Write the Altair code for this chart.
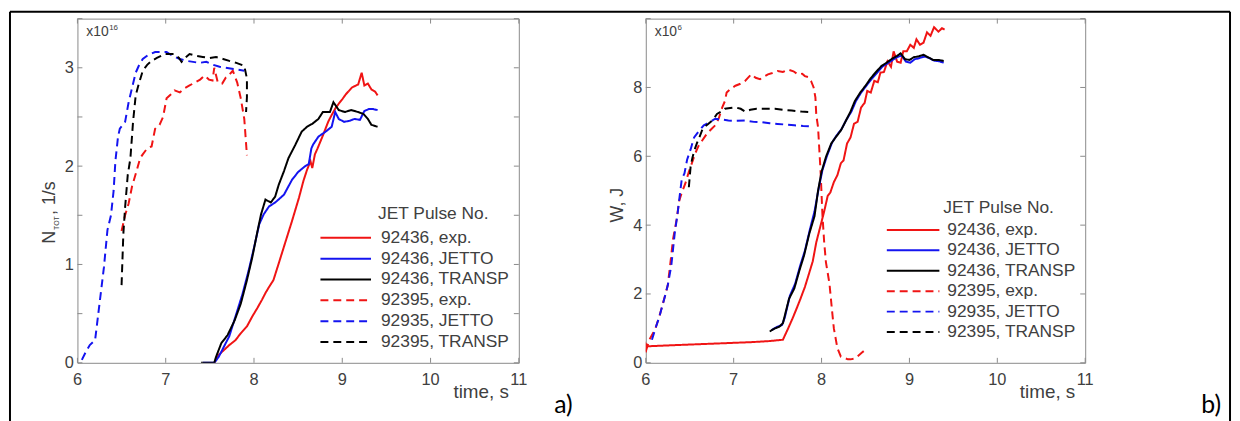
import altair as alt
import pandas as pd

# ---------------- data ----------------
SERIES = ["92436, exp.", "92436, JETTO", "92436, TRANSP",
          "92395, exp.", "92935, JETTO", "92395, TRANSP"]
COLORS = ["#f01414", "#1414f0", "#000000", "#f01414", "#1414f0", "#000000"]
DASHES = [[1, 0], [1, 0], [1, 0], [8, 5], [8, 5], [8, 5]]

X_TICKS = [6, 7, 8, 9, 10, 11]
A_Y_LABELS = [0, 1, 2, 3]
A_Y_TICKS = [0, 0.5, 1, 1.5, 2, 2.5, 3, 3.5]
B_Y_LABELS = [0, 2, 4, 6, 8]
B_Y_TICKS = [0, 2, 4, 6, 8, 10]

# panel a) neutron rate, x1e16 1/s
a_exp_t = [7.55, 7.60, 7.66, 7.72, 7.79, 7.85, 7.92, 7.98, 8.04, 8.09, 8.13, 8.17, 8.22, 8.28,
           8.36, 8.43, 8.51, 8.56, 8.60, 8.64, 8.66, 8.69, 8.72, 8.78, 8.84, 8.88, 8.93, 9.00,
           9.04, 9.11, 9.18, 9.22, 9.25, 9.29, 9.33, 9.37, 9.40]
a_exp_v = [0.0, 0.08, 0.13, 0.18, 0.23, 0.30, 0.37, 0.47, 0.56, 0.64, 0.71, 0.77, 0.84, 1.01,
           1.24, 1.44, 1.68, 1.85, 1.96, 2.05, 1.98, 2.12, 2.18, 2.31, 2.45, 2.52, 2.60, 2.68,
           2.73, 2.80, 2.83, 2.95, 2.82, 2.84, 2.78, 2.76, 2.72]
a_jetto_t = [7.42, 7.50, 7.55, 7.60, 7.64, 7.72, 7.79, 7.87, 7.94, 8.00, 8.06, 8.11, 8.17, 8.24,
             8.34, 8.43, 8.50, 8.58, 8.62, 8.65, 8.67, 8.73, 8.81, 8.88, 8.92, 8.96, 9.02, 9.08,
             9.14, 9.20, 9.25, 9.30, 9.35, 9.40]
a_jetto_v = [0.0, 0.0, 0.0, 0.06, 0.13, 0.27, 0.47, 0.70, 0.94, 1.17, 1.41, 1.51, 1.59, 1.63,
             1.71, 1.86, 1.94, 2.00, 2.02, 2.18, 2.22, 2.30, 2.35, 2.40, 2.55, 2.48, 2.45, 2.46,
             2.48, 2.47, 2.56, 2.58, 2.58, 2.57]
a_transp_t = [7.40, 7.50, 7.55, 7.57, 7.63, 7.70, 7.78, 7.85, 7.92, 7.98, 8.04, 8.08, 8.13, 8.19,
              8.24, 8.28, 8.34, 8.39, 8.47, 8.54, 8.60, 8.66, 8.73, 8.78, 8.81, 8.86, 8.90, 8.96,
              9.03, 9.10, 9.18, 9.24, 9.29, 9.33, 9.40]
a_transp_v = [0.0, 0.0, 0.0, 0.06, 0.20, 0.28, 0.43, 0.60, 0.84, 1.07, 1.34, 1.51, 1.66, 1.63,
              1.69, 1.81, 1.95, 2.08, 2.22, 2.35, 2.40, 2.43, 2.48, 2.55, 2.55, 2.55, 2.65, 2.57,
              2.55, 2.57, 2.55, 2.53, 2.48, 2.42, 2.40]
a_exp2_t = [6.50, 6.54, 6.58, 6.62, 6.67, 6.71, 6.74, 6.79, 6.84, 6.88, 6.93, 6.97, 7.01, 7.06,
            7.10, 7.16, 7.21, 7.27, 7.33, 7.39, 7.44, 7.49, 7.53, 7.55, 7.59, 7.64, 7.68, 7.72,
            7.76, 7.81, 7.85, 7.89, 7.92]
a_exp2_v = [1.34, 1.50, 1.62, 1.80, 1.95, 2.08, 2.12, 2.18, 2.20, 2.38, 2.42, 2.50, 2.69, 2.73,
            2.77, 2.75, 2.79, 2.82, 2.85, 2.88, 2.92, 2.88, 2.87, 3.00, 2.85, 2.84, 2.90, 2.93,
            2.97, 2.85, 2.69, 2.48, 2.11]
a_jetto2_t = [6.05, 6.10, 6.14, 6.20, 6.25, 6.30, 6.34, 6.38, 6.41, 6.43, 6.46, 6.48, 6.54, 6.58,
              6.62, 6.66, 6.70, 6.74, 6.80, 6.88, 6.95, 7.01, 7.08, 7.16, 7.24, 7.31, 7.38, 7.46,
              7.54, 7.61, 7.68, 7.75, 7.82, 7.89]
a_jetto2_v = [0.03, 0.12, 0.18, 0.23, 0.60, 0.97, 1.35, 1.50, 1.75, 2.05, 2.30, 2.38, 2.45, 2.65,
              2.80, 2.95, 3.03, 3.09, 3.13, 3.16, 3.16, 3.16, 3.12, 3.09, 3.07, 3.06, 3.05, 3.06,
              3.03, 3.01, 3.00, 2.99, 2.98, 2.97]
a_transp2_t = [6.50, 6.51, 6.52, 6.54, 6.57, 6.60, 6.63, 6.66, 6.69, 6.74, 6.79, 6.84, 6.90, 6.99,
               7.05, 7.10, 7.15, 7.18, 7.22, 7.27, 7.35, 7.42, 7.50, 7.57, 7.65, 7.72, 7.80, 7.89,
               7.92, 7.92, 7.91]
a_transp2_v = [0.79, 1.05, 1.31, 1.58, 1.91, 2.08, 2.45, 2.72, 2.82, 2.97, 3.03, 3.07, 3.10, 3.14,
               3.14, 3.14, 3.10, 3.06, 3.10, 3.14, 3.12, 3.11, 3.10, 3.11, 3.09, 3.07, 3.05, 3.02,
               2.89, 2.70, 2.55]

# panel b) stored energy, x1e6 J
b_exp_t = [6.00, 6.00, 6.02, 6.30, 6.60, 6.90, 7.20, 7.40, 7.56, 7.62, 7.67, 7.72, 7.76, 7.81,
           7.85, 7.90, 7.94, 7.99, 8.03, 8.07, 8.10, 8.14, 8.18, 8.22, 8.25, 8.29, 8.33, 8.37,
           8.41, 8.45, 8.49, 8.52, 8.56, 8.60, 8.64, 8.67, 8.71, 8.75, 8.79, 8.82, 8.86, 8.90,
           8.93, 8.97, 9.01, 9.05, 9.08, 9.12, 9.16, 9.20, 9.24, 9.28, 9.33, 9.37, 9.40]
b_exp_v = [0.30, 0.55, 0.48, 0.51, 0.54, 0.57, 0.60, 0.63, 0.67, 1.00, 1.29, 1.60, 1.86, 2.20,
           2.53, 2.95, 3.50, 4.00, 4.40, 4.85, 4.95, 5.25, 5.45, 5.80, 5.88, 6.37, 6.55, 6.95,
           7.00, 7.42, 7.55, 7.90, 7.85, 8.19, 8.15, 8.43, 8.45, 8.76, 8.60, 9.05, 8.75, 8.72,
           9.05, 9.05, 9.24, 9.15, 9.40, 9.24, 9.30, 9.60, 9.50, 9.75, 9.62, 9.72, 9.68]
b_jetto_t = [7.43, 7.50, 7.55, 7.58, 7.64, 7.70, 7.76, 7.81, 7.87, 7.92, 7.97, 8.01, 8.06, 8.12,
             8.17, 8.23, 8.28, 8.34, 8.39, 8.45, 8.51, 8.57, 8.63, 8.69, 8.75, 8.81, 8.86, 8.91,
             8.96, 9.01, 9.06, 9.11, 9.17, 9.22, 9.28, 9.34, 9.39]
b_jetto_v = [0.95, 1.05, 1.10, 1.30, 1.95, 2.30, 2.85, 3.25, 3.90, 4.40, 5.10, 5.60, 6.00, 6.40,
             6.60, 6.80, 7.05, 7.30, 7.60, 7.85, 8.05, 8.25, 8.42, 8.60, 8.70, 8.80, 8.88, 8.93,
             8.75, 8.72, 8.82, 8.85, 8.90, 8.86, 8.78, 8.76, 8.72]
b_transp_t = [7.41, 7.47, 7.52, 7.56, 7.63, 7.69, 7.75, 7.80, 7.86, 7.92, 7.96, 8.00, 8.05, 8.11,
              8.16, 8.22, 8.27, 8.33, 8.38, 8.44, 8.50, 8.56, 8.62, 8.68, 8.74, 8.80, 8.86, 8.90,
              8.95, 9.00, 9.05, 9.10, 9.16, 9.21, 9.27, 9.33, 9.39]
b_transp_v = [0.91, 1.00, 1.05, 1.15, 1.86, 2.16, 2.70, 3.11, 3.75, 4.26, 5.00, 5.55, 5.98, 6.37,
              6.55, 6.75, 7.00, 7.30, 7.61, 7.85, 8.05, 8.27, 8.45, 8.62, 8.72, 8.83, 8.92, 8.99,
              8.82, 8.80, 8.88, 8.90, 8.95, 8.88, 8.80, 8.80, 8.77]
b_exp2_t = [6.00, 6.04, 6.08, 6.11, 6.16, 6.20, 6.25, 6.28, 6.31, 6.35, 6.38, 6.41, 6.45, 6.49,
            6.51, 6.56, 6.60, 6.64, 6.68, 6.71, 6.75, 6.79, 6.83, 6.87, 6.90, 6.92, 6.96, 7.02,
            7.07, 7.13, 7.17, 7.20, 7.25, 7.30, 7.35, 7.39, 7.44, 7.50, 7.56, 7.62, 7.68, 7.73,
            7.78, 7.81, 7.85, 7.88, 7.91, 7.93, 7.94, 7.96, 7.99, 8.01, 8.03, 8.05, 8.09, 8.12,
            8.14, 8.18, 8.22, 8.26, 8.30, 8.33, 8.37, 8.41, 8.46, 8.48]
b_exp2_v = [0.33, 0.67, 0.85, 1.00, 1.40, 1.77, 2.25, 2.90, 3.59, 4.15, 4.70, 4.95, 5.21, 5.55,
            5.69, 6.07, 6.30, 6.45, 6.60, 6.70, 6.80, 6.90, 7.10, 7.42, 7.60, 7.85, 7.95, 8.05,
            8.10, 8.19, 8.30, 8.38, 8.28, 8.24, 8.32, 8.38, 8.42, 8.48, 8.45, 8.52, 8.47, 8.38,
            8.40, 8.33, 8.30, 8.19, 8.00, 7.71, 7.20, 6.85, 5.50, 4.30, 3.50, 2.92, 2.30, 1.50,
            1.00, 0.43, 0.18, 0.14, 0.10, 0.10, 0.12, 0.19, 0.30, 0.34]
b_jetto2_t = [6.07, 6.11, 6.15, 6.18, 6.22, 6.25, 6.29, 6.33, 6.36, 6.38, 6.41, 6.44, 6.47, 6.51,
              6.55, 6.60, 6.66, 6.72, 6.79, 6.86, 6.94, 7.02, 7.13, 7.23, 7.32, 7.41, 7.50, 7.60,
              7.69, 7.79, 7.88]
b_jetto2_v = [0.67, 1.00, 1.30, 1.58, 1.95, 2.25, 2.82, 3.78, 4.30, 4.73, 5.35, 5.50, 5.90, 6.20,
              6.55, 6.72, 6.90, 6.98, 7.09, 7.07, 7.04, 7.03, 7.04, 7.00, 6.99, 6.96, 6.94, 6.92,
              6.90, 6.88, 6.87]
b_transp2_t = [6.49, 6.50, 6.51, 6.53, 6.55, 6.58, 6.61, 6.64, 6.68, 6.71, 6.76, 6.81, 6.86, 6.90,
               6.96, 7.02, 7.08, 7.13, 7.19, 7.26, 7.35, 7.47, 7.57, 7.66, 7.77, 7.88]
b_transp2_v = [5.10, 5.40, 5.70, 5.95, 6.15, 6.37, 6.55, 6.75, 6.88, 6.94, 7.05, 7.23, 7.30, 7.38,
               7.40, 7.42, 7.38, 7.30, 7.35, 7.38, 7.38, 7.38, 7.35, 7.33, 7.30, 7.28]

# ---------------- styling ----------------
FONT = "Liberation Sans"
LAB = "#404040"
AXC = "#8a8a8a"
W_A, W_B, H = 445, 443, 347
ONE = pd.DataFrame({"k": [0]})


def long_df(pairs):
    rows = []
    # dashed first, then solid (solid black on top)
    for idx in [3, 4, 5, 0, 1, 2]:
        ts, vs = pairs[idx]
        for i, (t, v) in enumerate(zip(ts, vs)):
            rows.append({"series": SERIES[idx], "t": t, "v": v, "i": i})
    return pd.DataFrame(rows)


cscale = alt.Scale(domain=SERIES, range=COLORS)
dscale = alt.Scale(domain=SERIES, range=DASHES)
xscale = alt.Scale(domain=[6, 11], nice=False, zero=False)


def label(text, x, y, **kw):
    return alt.Chart(pd.DataFrame({"s": [text]})).mark_text(**kw).encode(
        x=alt.value(x), y=alt.value(y), text="s:N")


def panel(pairs, W, ymax, ylabels, yticks, leg_top, leg_bottom, leg_title_y,
          leg_line_x, leg_text_x, leg_title_x, mult_main, mult_exp, ytitle_parts,
          letter, tag_x, extra):
    df = long_df(pairs)
    yscale = alt.Scale(domain=[0, ymax], nice=False, zero=True)
    xenc = alt.X("t:Q", scale=xscale, axis=None)
    yenc = alt.Y("v:Q", scale=yscale,
                 axis=alt.Axis(values=ylabels, title=None, grid=False, ticks=False, tickSize=0,
                               domain=False, labelFontSize=16.5, labelColor=LAB, labelFont=FONT,
                               labelPadding=4, labelFlush=False))
    lines = alt.Chart(df).mark_line(strokeWidth=2, clip=True).encode(
        x=xenc, y=yenc,
        color=alt.Color("series:N", scale=cscale, legend=None),
        strokeDash=alt.StrokeDash("series:N", scale=dscale, legend=None),
        order=alt.Order("i:Q"),
    )
    xt = pd.DataFrame({"t": X_TICKS})
    yt = pd.DataFrame({"v": yticks})
    xt_enc = alt.X("t:Q", scale=xscale, axis=None)
    yt_enc = alt.Y("v:Q", scale=yscale, axis=None)
    ticks = [
        alt.Chart(xt).mark_rule(color=AXC, strokeWidth=1).encode(
            x=xt_enc, y=alt.value(H - 5), y2=alt.value(H)),
        alt.Chart(xt).mark_rule(color=AXC, strokeWidth=1).encode(
            x=xt_enc, y=alt.value(0), y2=alt.value(5)),
        alt.Chart(yt).mark_rule(color=AXC, strokeWidth=1).encode(
            y=yt_enc, x=alt.value(0), x2=alt.value(5)),
        alt.Chart(yt).mark_rule(color=AXC, strokeWidth=1).encode(
            y=yt_enc, x=alt.value(W - 5), x2=alt.value(W)),
        alt.Chart(xt).mark_text(baseline="top", align="center", fontSize=16.5, font=FONT,
                                color=LAB).encode(
            x=xt_enc, y=alt.value(H + 9), text=alt.Text("t:Q")),
    ]
    leg_df = pd.DataFrame({"series": SERIES, "row": list(range(len(SERIES)))})
    lenc = alt.Y("row:Q", scale=alt.Scale(domain=[0, 5], range=[leg_top, leg_bottom]), axis=None)
    leg_lines = alt.Chart(leg_df).mark_rule(strokeWidth=2).encode(
        x=alt.value(leg_line_x[0]), x2=alt.value(leg_line_x[1]), y=lenc,
        color=alt.Color("series:N", scale=cscale, legend=None),
        strokeDash=alt.StrokeDash("series:N", scale=dscale, legend=None),
    )
    leg_text = alt.Chart(leg_df).mark_text(
        align="left", baseline="middle", fontSize=17.5, font=FONT, color=LAB).encode(
        x=alt.value(leg_text_x), y=lenc, text="series:N")
    leg_title = label("JET Pulse No.", leg_title_x, leg_title_y, align="left",
                      baseline="middle", fontSize=17.5, font=FONT, color=LAB)
    texts = [
        label(mult_main, 9, 14, align="left", baseline="middle", fontSize=14, font=FONT,
              color=LAB),
        label(mult_exp, 32, 9, align="left", baseline="middle", fontSize=8, font=FONT,
              color=LAB),
        label("time, s", W - 10, 382, align="right", baseline="alphabetic", fontSize=19,
              font=FONT, color=LAB),
        label(letter, tag_x, 390, align="center", baseline="middle", fontSize=25,
              font="Lato", color="#000000"),
    ]
    for (txt, xx, yy, fs, al) in ytitle_parts:
        texts.append(label(txt, xx, yy, align=al, baseline="alphabetic", angle=270,
                           fontSize=fs, font=FONT, color=LAB))
    layers = [lines] + ticks + [leg_lines, leg_text, leg_title] + texts + extra
    return alt.layer(*layers).resolve_scale(y="independent").properties(width=W, height=H)


border_left = [
    alt.Chart(ONE).mark_rule(color="#000000", strokeWidth=2).encode(
        x=alt.value(-68), y=alt.value(-7), y2=alt.value(406)),
    alt.Chart(ONE).mark_rule(color="#000000", strokeWidth=2).encode(
        x=alt.value(-68), x2=alt.value(1162), y=alt.value(-7)),
]
border_right = [
    alt.Chart(ONE).mark_rule(color="#000000", strokeWidth=2).encode(
        x=alt.value(589), y=alt.value(-7), y2=alt.value(406)),
]

pairs_a = [(a_exp_t, a_exp_v), (a_jetto_t, a_jetto_v), (a_transp_t, a_transp_v),
           (a_exp2_t, a_exp2_v), (a_jetto2_t, a_jetto2_v), (a_transp2_t, a_transp2_v)]
pairs_b = [(b_exp_t, b_exp_v), (b_jetto_t, b_jetto_v), (b_transp_t, b_transp_v),
           (b_exp2_t, b_exp2_v), (b_jetto2_t, b_jetto2_v), (b_transp2_t, b_transp2_v)]

left = panel(pairs_a, W_A, 3.5, A_Y_LABELS, A_Y_TICKS, 221, 326, 197,
             (245, 296), 306, 303, "x10", "16",
             [("N", -23, 227, 18, "left"), ("TOT", -19, 213, 7, "left"),
              (", 1/s", -23, 198, 18, "left")],
             "a)", 490, border_left)
right = panel(pairs_b, W_B, 10, B_Y_LABELS, B_Y_TICKS, 213, 316, 191,
              (243, 296), 304, 300, "x10", "6",
              [("W, J", -23, 188, 18, "center")],
              "b)", 570, border_right)

chart = alt.hconcat(left, right, spacing=128, bounds="flush").properties(
    padding=0, background="white"
).configure_view(stroke=AXC, strokeWidth=1)

chart.save("out.html", embed_options={"renderer": "svg", "actions": False})
